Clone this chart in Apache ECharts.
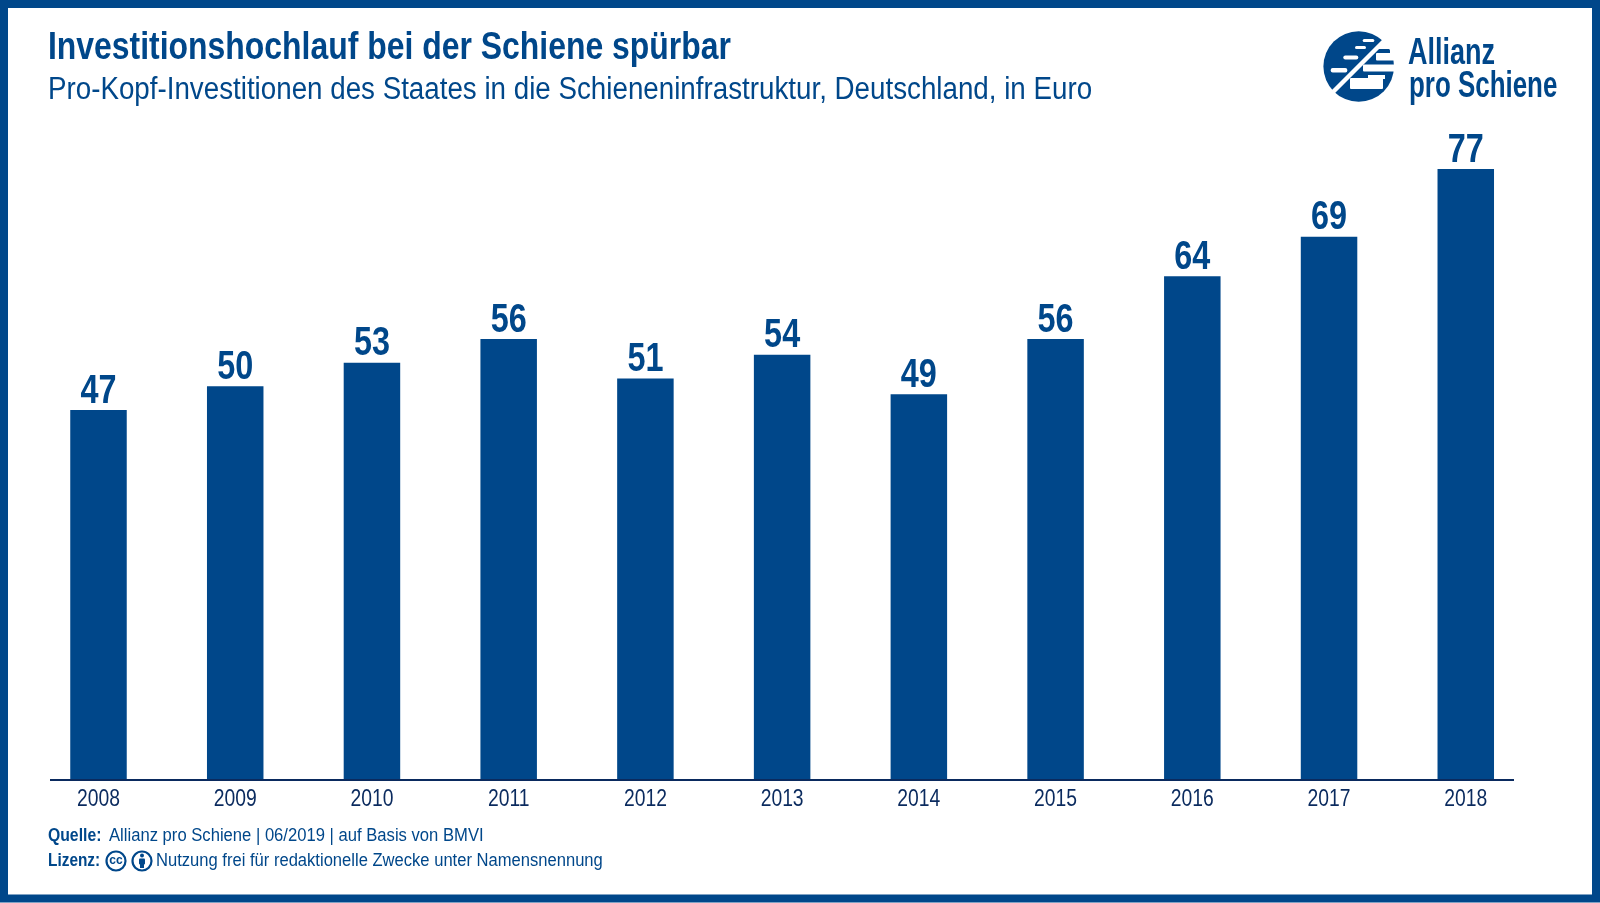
<!DOCTYPE html>
<html>
<head>
<meta charset="utf-8">
<style>html,body{margin:0;padding:0;background:#fff}#c{width:1600px;height:903px}</style>
<script src="https://cdn.jsdelivr.net/npm/echarts@6/dist/echarts.min.js"></script>
</head>
<body>
<div id="c"></div>
<script>
const years = ['2008','2009','2010','2011','2012','2013','2014','2015','2016','2017','2018'];
const barValues = [47,50,53,56,51,54,49,56,64,69,77.6];
const valueLabels = ['47','50','53','56','51','54','49','56','64','69','77'];

const BLUE = '#00478A', DARK = '#0A2A5E', SANS = '"Liberation Sans",Arial,sans-serif';
const chart = echarts.init(document.getElementById('c'), null, {renderer:'canvas', width:1600, height:903});

function txt(text, x, y, size, weight, sx) {
  return {type:'text', x:x, y:y, scaleX:sx||1, z:10, silent:true,
    style:{text:text, font:(weight||'normal')+' '+size+'px '+SANS, fill:BLUE, align:'left', verticalAlign:'middle'}};
}
function rect(x,y,w,h,fill,z,r){return {type:'rect',z:z||10,silent:true,shape:{x:x,y:y,width:w,height:h,r:r||0},style:{fill:fill}};}
function line(x1,y1,x2,y2,w,color,z){return {type:'line',z:z||10,silent:true,shape:{x1:x1,y1:y1,x2:x2,y2:y2},style:{stroke:color,lineWidth:w}};}
const circ=(cx,cy,r,st,z)=>({type:'circle',z:z||10,silent:true,shape:{cx:cx,cy:cy,r:r},style:st});

const graphics = [
  {type:'rect',z:20,silent:true,shape:{x:4,y:4,width:1592,height:894.5},style:{fill:null,stroke:BLUE,lineWidth:8}},
  line(50,780,1514,780,2,DARK,5),
  txt('Investitionshochlauf bei der Schiene spürbar',48,49,38,'bold',0.84),
  txt('Pro-Kopf-Investitionen des Staates in die Schieneninfrastruktur, Deutschland, in Euro',48,90,31,'normal',0.895),
  txt('Quelle:',48,836,17.5,'bold',0.9),
  txt('Allianz pro Schiene | 06/2019 | auf Basis von BMVI',109,836,17.5,'normal',0.95),
  txt('Lizenz:',48,861,17.5,'bold',0.88),
  txt('Nutzung frei für redaktionelle Zwecke unter Namensnennung',156,861,17.5,'normal',0.947),
  // licence icons
  circ(116,861,9.5,{fill:'#fff',stroke:BLUE,lineWidth:2.2}),
  {type:'text',x:116,y:861,z:11,silent:true,style:{text:'cc',font:'bold 12px '+SANS,fill:BLUE,align:'center',verticalAlign:'middle'}},
  circ(142,861,9.5,{fill:'#fff',stroke:BLUE,lineWidth:2.2}),
  circ(142,855.5,2,{fill:BLUE},11),
  rect(139,858.5,6,6,BLUE,11,1),
  rect(140,864,4,4,BLUE,11),
  // logo
  circ(1358.7,66.5,35.3,{fill:BLUE},10),
  rect(1362.7,39,11.6,3,'#fff',11,1.5),
  rect(1355,46,11,3,'#fff',11,1.5),
  rect(1343.3,55.5,15,4,'#fff',11,2),
  rect(1330.7,68,16.6,4.5,'#fff',11,2),
  {type:'polygon',z:11,silent:true,shape:{points:[[1376,49],[1398,49],[1398,27]]},style:{fill:'#fff'}},
  rect(1390,49,6,5,'#fff',11),
  rect(1376,53,21,7.5,'#fff',11,1),
  rect(1363,64.5,34,7,'#fff',11,1),
  rect(1350,78,33,11,'#fff',11,1),
  rect(1368,75,17,4,'#fff',11),
  line(1333,92,1385,40,4.5,'#fff',13),
  txt('Allianz',1408,54,36,'bold',0.75),
  txt('pro Schiene',1409,87,36,'bold',0.72)
];

chart.setOption({
  animation:false,
  backgroundColor:'#fff',
  grid:{left:30.13,width:1504,top:150.16,height:629.84},
  xAxis:{type:'category',data:years,boundaryGap:true,
    axisLine:{show:false},axisTick:{show:false},axisLabel:{show:false}},
  yAxis:{type:'value',min:0,max:80,show:false,splitLine:{show:false}},
  series:[
    {type:'bar',data:barValues,barWidth:56.5,itemStyle:{color:BLUE}},
    {type:'custom',silent:true,data:barValues.map((v,i)=>[i,v]),encode:{x:0,y:1},clip:false,
      renderItem:(params,api)=>{
        const p=api.coord([api.value(0),api.value(1)]);
        return {type:'text',x:p[0],y:p[1]-18.5,scaleX:0.81,z2:5,
          style:{text:valueLabels[params.dataIndex],font:'bold 40px '+SANS,fill:BLUE,align:'center',verticalAlign:'middle'}};
      }},
    {type:'custom',silent:true,data:years.map((y,i)=>[i,0]),encode:{x:0,y:1},clip:false,
      renderItem:(params,api)=>{
        const p=api.coord([api.value(0),0]);
        return {type:'text',x:p[0],y:p[1]+19.8,scaleX:0.84,z2:5,
          style:{text:years[params.dataIndex],font:'normal 23px '+SANS,fill:DARK,align:'center',verticalAlign:'middle'}};
      }}
  ],
  graphic:graphics
});
</script>
</body>
</html>
